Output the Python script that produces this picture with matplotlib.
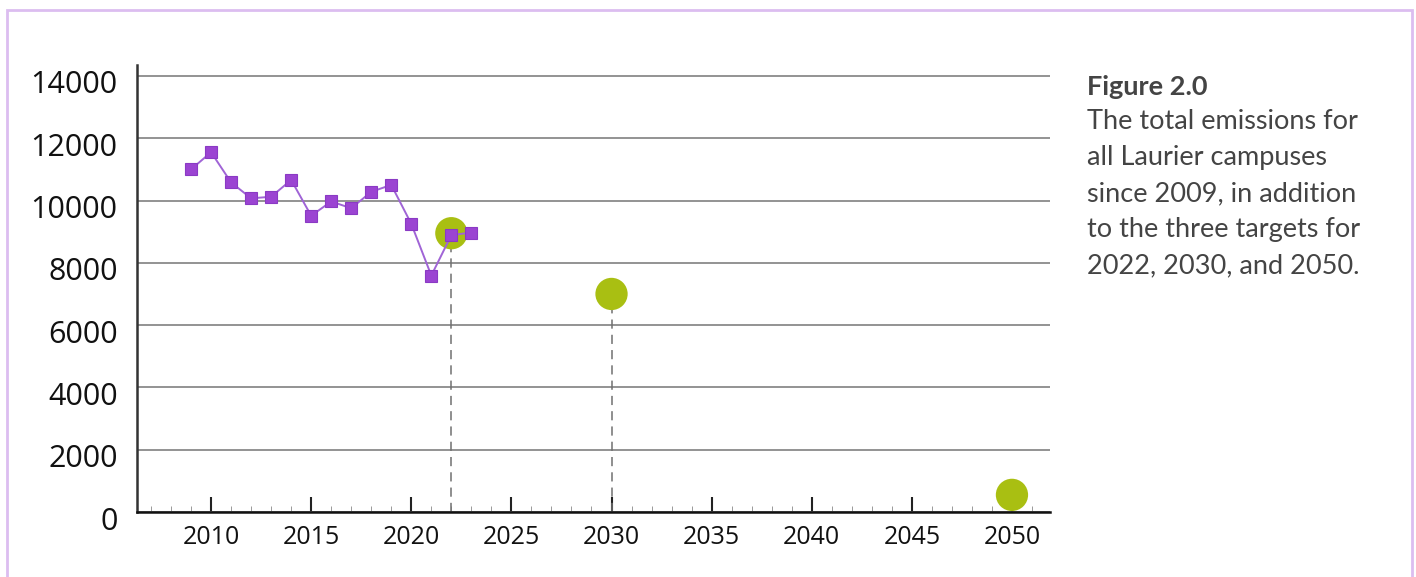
import matplotlib
matplotlib.use("Agg")
import matplotlib.pyplot as plt
from matplotlib.patches import Rectangle
from matplotlib.transforms import ScaledTranslation
from matplotlib.ticker import MultipleLocator

# ---- data ----
years = [2009, 2010, 2011, 2012, 2013, 2014, 2015, 2016, 2017, 2018, 2019, 2020, 2021, 2022, 2023]
emissions = [11000, 11550, 10580, 10070, 10120, 10660, 9510, 9970, 9750, 10280, 10500, 9250, 7590, 8890, 8970]
target_years = [2022, 2030, 2050]
target_values = [8950, 7000, 550]
y_ticks = [0, 2000, 4000, 6000, 8000, 10000, 12000, 14000]
x_ticks = [2010, 2015, 2020, 2025, 2030, 2035, 2040, 2045, 2050]
caption_title = "Figure 2.0"
caption_lines = ["The total emissions for", "all Laurier campuses",
                 "since 2009, in addition", "to the three targets for",
                 "2022, 2030, and 2050."]

W, H = 1416, 577
fig = plt.figure(figsize=(W / 100, H / 100), dpi=100)
fig.patch.set_facecolor("white")

# border
fig.patches.append(Rectangle((7 / W, -0.05), (1412 - 7) / W, (H - 10) / H + 0.05,
                             transform=fig.transFigure, fill=False,
                             edgecolor="#dcbdf0", linewidth=2.0))

ax = fig.add_axes([137 / W, 65 / H, (1050 - 137) / W, (512 - 65) / H])
ax.set_xlim(2006.3, 2051.9)
ax.set_ylim(0, 14350)

for s in ["top", "right"]:
    ax.spines[s].set_visible(False)
ax.spines["left"].set_color("#333333")
ax.spines["left"].set_linewidth(1.8)
ax.spines["bottom"].set_color("#111111")
ax.spines["bottom"].set_linewidth(1.8)

ax.set_yticks(y_ticks)
ax.set_xticks(x_ticks)
ax.xaxis.set_minor_locator(MultipleLocator(1))
ax.tick_params(axis="y", length=0, labelsize=22, pad=14, labelcolor="#111111")
ax.tick_params(axis="x", which="major", direction="in", length=11, width=1.5,
               color="#222222", labelsize=18, pad=9, labelcolor="#111111")
ax.tick_params(axis="x", which="minor", direction="in", length=4, width=0.7,
               color="#999999")
for lab in ax.get_yticklabels():
    lab.set_fontfamily("Open Sans")
    lab.set_transform(lab.get_transform() + ScaledTranslation(0, -6 / 100, fig.dpi_scale_trans))
for lab in ax.get_xticklabels():
    lab.set_fontfamily("Open Sans")

ax.yaxis.grid(True, color="#8a8a8a", linewidth=1.3)
ax.set_axisbelow(True)

# dashed drop lines for targets
ax.vlines(target_years[:2], 0, target_values[:2], colors="#707070",
          linestyles=(0, (6, 4)), linewidth=1.1, zorder=2)

# target circles
ax.scatter(target_years, target_values, s=540, color="#a9bf12", edgecolors="none",
           zorder=3)

# emissions series
ax.plot(years, emissions, color="#a064d6", linewidth=1.4, marker="s",
        markersize=8.5, markerfacecolor="#9b44d2", markeredgecolor="#8a3ac4",
        markeredgewidth=0.8, zorder=4)

# caption
fig.text(1087 / W, 1 - 95 / H, caption_title, fontsize=19.5, fontweight="bold",
         color="#444444", family="Lato", va="baseline", ha="left")
for i, line in enumerate(caption_lines):
    fig.text(1087 / W, 1 - (129 + 36 * i) / H, line, fontsize=19.5,
             color="#444444", family="Lato", va="baseline", ha="left")

fig.savefig("out.png", dpi=100, facecolor="white")
